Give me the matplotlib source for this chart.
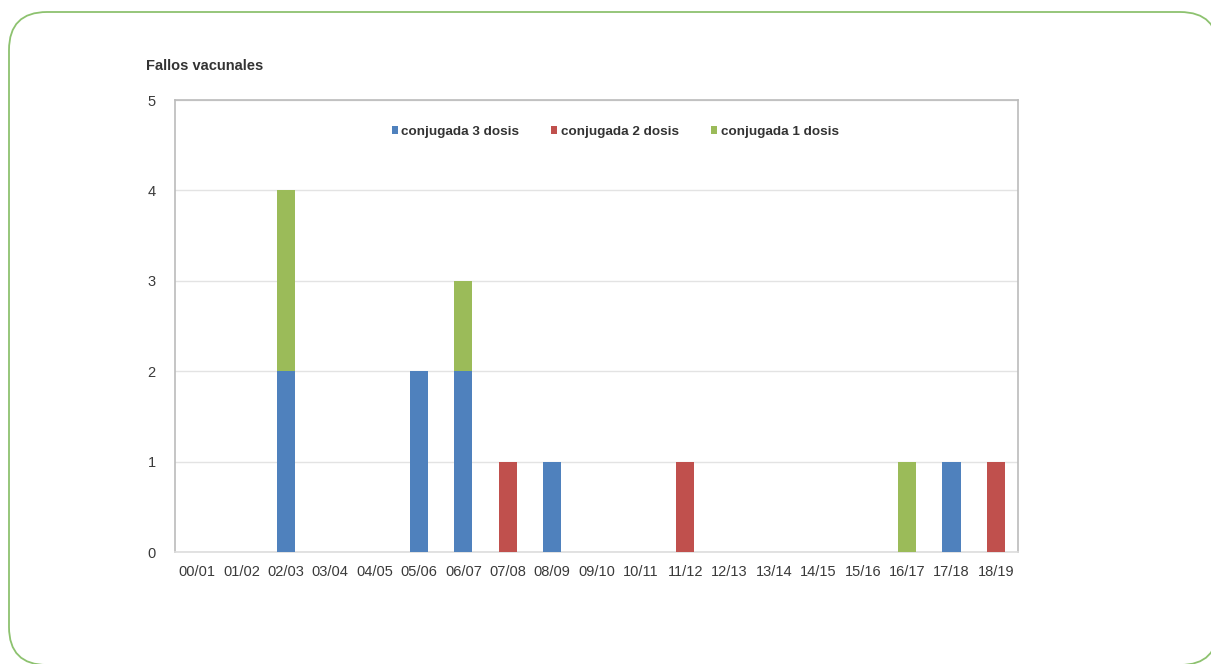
import numpy as np
import matplotlib
matplotlib.use("Agg")
import matplotlib.pyplot as plt
from matplotlib.patches import FancyBboxPatch

plt.rcParams['font.family'] = ['Liberation Sans', 'DejaVu Sans']

temporadas = ['00/01', '01/02', '02/03', '03/04', '04/05', '05/06', '06/07', '07/08',
              '08/09', '09/10', '10/11', '11/12', '12/13', '13/14', '14/15', '15/16',
              '16/17', '17/18', '18/19']
dosis_3 = [0, 0, 2, 0, 0, 2, 2, 0, 1, 0, 0, 0, 0, 0, 0, 0, 0, 1, 0]
dosis_2 = [0, 0, 0, 0, 0, 0, 0, 1, 0, 0, 0, 1, 0, 0, 0, 0, 0, 0, 1]
dosis_1 = [0, 0, 2, 0, 0, 0, 1, 0, 0, 0, 0, 0, 0, 0, 0, 0, 1, 0, 0]

series = [
    ('conjugada 3 dosis', dosis_3, '#4F81BD'),
    ('conjugada 2 dosis', dosis_2, '#C0504D'),
    ('conjugada 1 dosis', dosis_1, '#9BBB59'),
]

W, H = 1211, 664
fig = plt.figure(figsize=(W / 100, H / 100), dpi=100)

# fondo en píxeles con el marco redondeado verde
fondo = fig.add_axes([0, 0, 1, 1], zorder=-1)
fondo.set_xlim(0, W)
fondo.set_ylim(H, 0)
fondo.axis('off')
fondo.add_patch(FancyBboxPatch((9, 12), 1209, 653,
                               boxstyle="round,pad=0,rounding_size=38",
                               facecolor='white', edgecolor='#8DC26F', linewidth=1.3))

ax = fig.add_axes([175 / W, 1 - 552 / H, 843 / W, 452 / H])
x = np.arange(len(temporadas))
base = np.zeros(len(temporadas))
for nombre, valores, color in series:
    ax.bar(x, valores, width=0.41, bottom=base, color=color, label=nombre, zorder=3)
    base += np.array(valores)

ax.set_xlim(-0.5, len(temporadas) - 0.5)
ax.set_ylim(0, 5)
ax.set_yticks(range(6))
ax.set_xticks(x)
ax.set_xticklabels(temporadas)
ax.tick_params(axis='both', length=0, labelsize=10.5, colors='#3A3A3A')
ax.tick_params(axis='y', pad=14)
ax.tick_params(axis='x', pad=9)
ax.grid(axis='y', color='#E3E3E3', linewidth=1, zorder=0)
for lado in ['top', 'right', 'left', 'bottom']:
    ax.spines[lado].set_color('#BBBBBB')
    ax.spines[lado].set_linewidth(1.2)
ax.spines['bottom'].set_color('#DDDDDD')

ax.legend(loc='upper center', bbox_to_anchor=(0.522, 0.97), ncol=3, frameon=False,
          handlelength=0.45, handleheight=0.45, handletextpad=0.25, columnspacing=2.4,
          prop={'size': 9.7, 'weight': 'bold'}, labelcolor='#333333')

fig.text(146 / W, 1 - 66 / H, 'Fallos vacunales', fontsize=10.5,
         fontweight='bold', color='#333333', va='center')

fig.savefig('out.png', dpi=100)
